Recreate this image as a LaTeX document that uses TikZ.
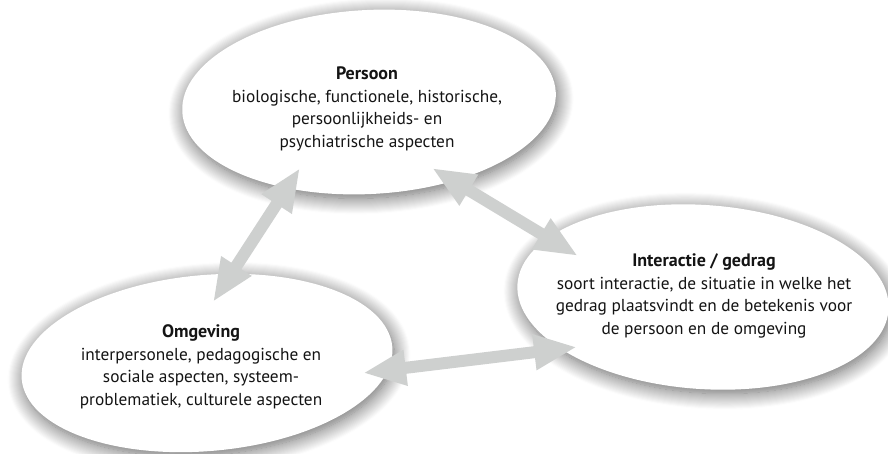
\documentclass[tikz,border=0pt]{standalone}
\usepackage{fontspec}
\setmainfont{PT Sans}
\usetikzlibrary{arrows.meta,shapes.geometric,shadows.blur}
\definecolor{arrowgray}{RGB}{206,208,207}
\newcommand{\blobtitle}[1]{{\fontsize{18}{22.5}\selectfont\bfseries #1}}
\begin{document}
\begin{tikzpicture}[x=1pt,y=-1pt,
  blob/.style={ellipse, fill=white, inner sep=0pt,
    blur shadow={shadow xshift=2pt, shadow yshift=-4pt,
      shadow blur radius=16pt, shadow opacity=62, shadow blur steps=16}},
  blobtext/.style={align=center, font=\fontsize{17.3}{22.5}\selectfont, text=black!92},
  link/.style={arrowgray, line width=12pt,
    {Triangle[length=43pt,width=33pt]}-{Triangle[length=43pt,width=33pt]}}
]
\useasboundingbox (0,0) rectangle (888,453);

% the three ellipses
\node[blob, minimum width=374pt, minimum height=184pt, rotate=3]  (per) at (369,102) {};
\node[blob, minimum width=372pt, minimum height=184pt, rotate=-4] (int) at (703,297) {};
\node[blob, minimum width=372pt, minimum height=176pt, rotate=5]  (omg) at (207,363) {};

% their texts
\node[blobtext] (perT) at (367,109) {\blobtitle{Persoon}\\biologische, functionele, historische,\\persoonlijkheids- en\\psychiatrische aspecten};
\node[blobtext] (intT) at (704,296) {\blobtitle{Interactie / gedrag}\\soort interactie, de situatie in welke het\\gedrag plaatsvindt en de betekenis voor\\de persoon en de omgeving};
\node[blobtext] (omgT) at (201,367) {\blobtitle{Omgeving}\\interpersonele, pedagogische en\\sociale aspecten, systeem-\\problematiek, culturele aspecten};

% arrow tips
\coordinate (pA) at (300,168);
\coordinate (oA) at (213,302);
\coordinate (pB) at (432,168);
\coordinate (iA) at (578,256);
\coordinate (oB) at (363,373);
\coordinate (iB) at (577,347);

% double-headed connectors
\draw[link] (pA) -- (oA);
\draw[link] (pB) -- (iA);
\draw[link] (oB) -- (iB);
\end{tikzpicture}
\end{document}
